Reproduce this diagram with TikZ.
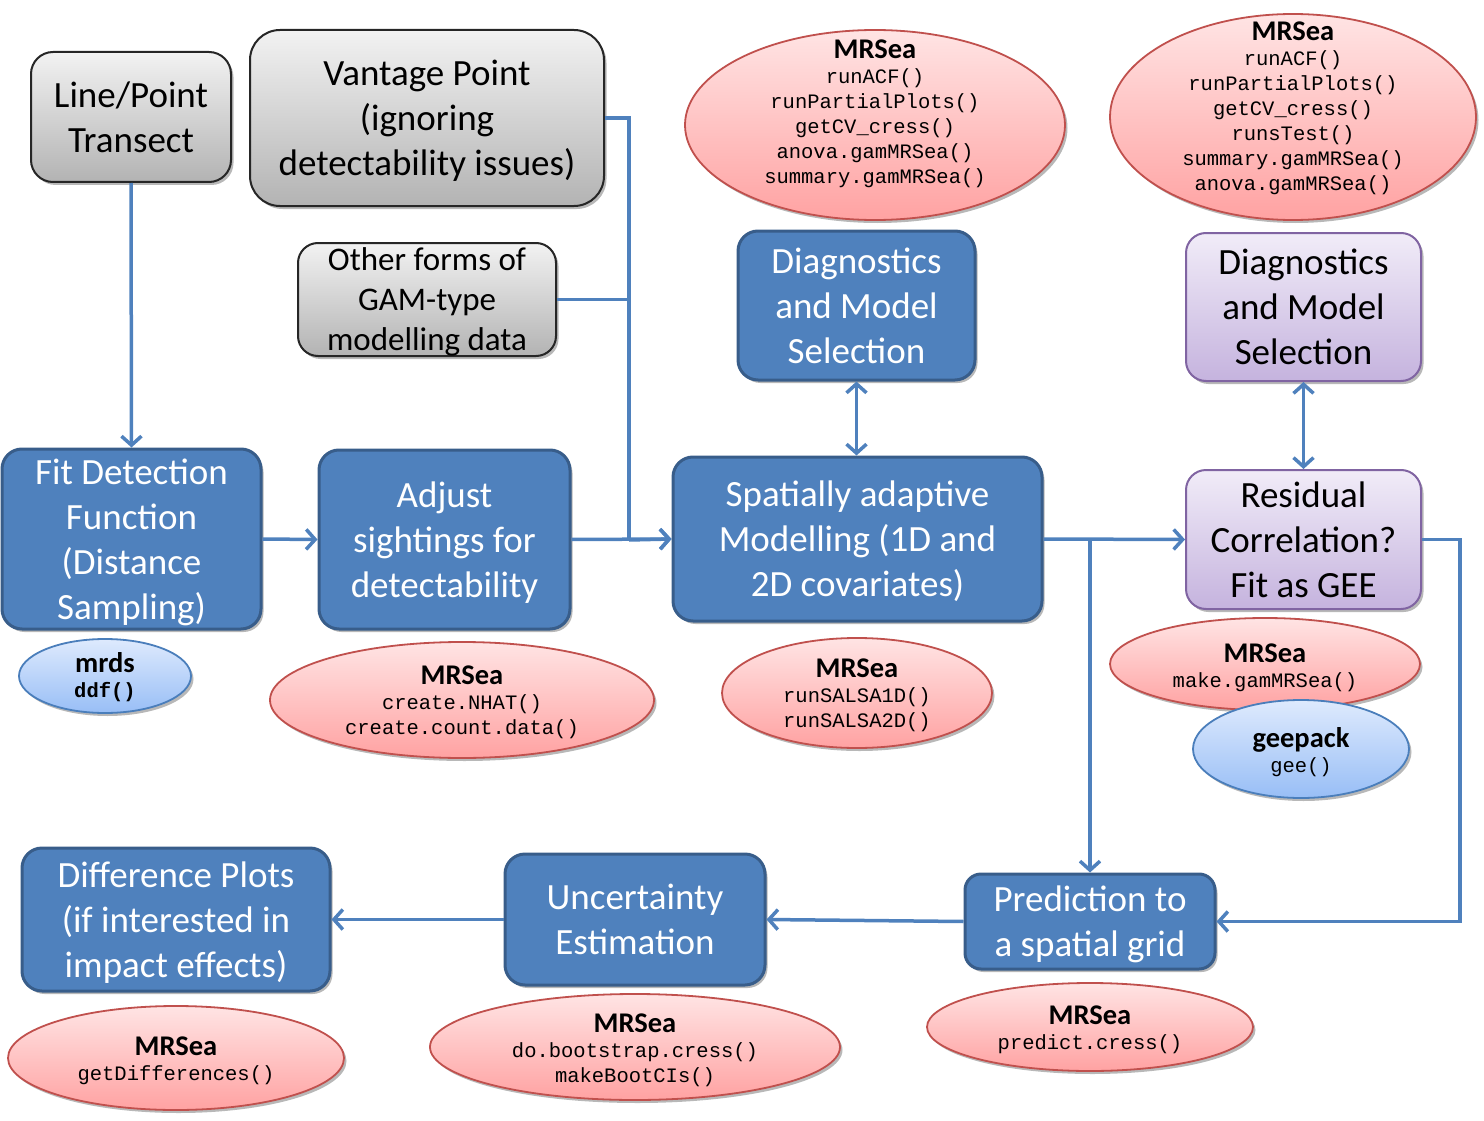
\documentclass[tikz,border=0pt]{standalone}
\usepackage{fontspec}
\setmainfont{Carlito}
\newfontfamily\mycodefont{Liberation Mono}
\usetikzlibrary{shapes.geometric,arrows.meta,shadows}
\definecolor{bluefill}{HTML}{4F81BD}
\definecolor{blueline}{HTML}{385D8A}
\definecolor{connc}{HTML}{4F81BD}
\definecolor{graytop}{HTML}{F2F2F2}
\definecolor{graybot}{HTML}{B3B3B3}
\definecolor{grayline}{HTML}{262626}
\definecolor{purptop}{HTML}{F1ECF8}
\definecolor{purpbot}{HTML}{C5B3DE}
\definecolor{purpline}{HTML}{8064A2}
\definecolor{redtop}{HTML}{FFE4E4}
\definecolor{redbot}{HTML}{FFA2A2}
\definecolor{redline}{HTML}{C0504D}
\definecolor{bltop}{HTML}{DEEAFD}
\definecolor{blbot}{HTML}{98BEF6}
\definecolor{blline}{HTML}{4A7EBB}
\newcommand\mybig{\fontsize{37}{45}\selectfont}
\newcommand\mymid{\fontsize{33}{40}\selectfont}
\newcommand\mycode{\mycodefont\fontsize{20.5}{25}\selectfont}
\newcommand\mypkg{\rmfamily\fontsize{28.5}{25}\selectfont\bfseries}
\tikzset{
  sh/.style={drop shadow={shadow xshift=2.5pt,shadow yshift=-3pt,opacity=0.28,fill=black}},
  bluebox/.style={draw=blueline,fill=bluefill,line width=3pt,rounded corners=20pt,
    text=white,font=\mybig,align=center,inner sep=0pt,text depth=0pt,sh},
  graybox/.style={draw=grayline,top color=graytop,bottom color=graybot,line width=2pt,
    rounded corners=22pt,text=black,font=\mybig,align=center,inner sep=0pt,text depth=0pt,sh},
  purpbox/.style={draw=purpline,top color=purptop,bottom color=purpbot,line width=2pt,
    rounded corners=20pt,text=black,font=\mybig,align=center,inner sep=0pt,text depth=0pt,sh},
  redell/.style={ellipse,draw=redline,line width=1.8pt,top color=redtop,bottom color=redbot,
    inner sep=0pt,sh},
  blueell/.style={ellipse,draw=blline,line width=1.8pt,top color=bltop,bottom color=blbot,
    inner sep=0pt,sh},
  ltxt/.style={align=center,font=\mycode,inner sep=0pt,text=black},
  wire/.style={draw=connc,line width=3.5pt},
  conn/.style={wire,-{Straight Barb[length=9pt,width=20pt]}},
  conn2/.style={wire,{Straight Barb[length=9pt,width=20pt]}-{Straight Barb[length=9pt,width=20pt]}},
}
\begin{document}
\begin{tikzpicture}[x=1pt,y=-1pt]
\useasboundingbox (0,0) rectangle (1484,1121);

% top gray boxes
\node[graybox,minimum width=200,minimum height=130] (lpt) at (131,117) {Line/Point\\Transect};
\node[graybox,minimum width=354,minimum height=176,rounded corners=30pt] (vp) at (427,118) {Vantage Point\\(ignoring\\detectability issues)};
\node[graybox,minimum width=258,minimum height=113,font=\mymid,rounded corners=20pt] (oth) at (427,299.5) {Other forms of\\GAM-type\\modelling data};

% main blue boxes
\node[bluebox,minimum width=259,minimum height=180] (fit) at (131.5,539) {Fit Detection\\Function\\(Distance\\Sampling)};
\node[bluebox,minimum width=251,minimum height=179] (adj) at (444.5,539.5) {Adjust\\sightings for\\detectability};
\node[bluebox,minimum width=369,minimum height=164] (spa) at (857.5,539) {Spatially adaptive\\Modelling (1D and\\2D covariates)};
\node[bluebox,minimum width=237,minimum height=149] (dg1) at (856.5,305.5) {Diagnostics\\and Model\\Selection};
\node[purpbox,minimum width=235,minimum height=148] (dg2) at (1303.5,307) {Diagnostics\\and Model\\Selection};
\node[purpbox,minimum width=235,minimum height=139] (res) at (1303.5,539.5) {Residual\\Correlation?\\Fit as GEE};
\node[bluebox,minimum width=250,minimum height=95,rounded corners=16pt] (pred) at (1090,921.5) {Prediction to\\a spatial grid};
\node[bluebox,minimum width=260,minimum height=131] (unc) at (635,919.5) {Uncertainty\\Estimation};
\node[bluebox,minimum width=308,minimum height=143] (dif) at (176,919.5) {Difference Plots\\(if interested in\\impact effects)};

% ellipses
\node[blueell,minimum width=172,minimum height=74] (emrds) at (105,676) {};
\node[ltxt] (tmrds) at (105,677) {{\mypkg mrds}\\{\bfseries ddf()}};

\node[redell,minimum width=384,minimum height=116] (eadj) at (462,700) {};
\node[ltxt] (tadj) at (462,702) {{\mypkg MRSea}\\create.NHAT()\\create.count.data()};

\node[redell,minimum width=380,minimum height=190] (etop1) at (875,125) {};
\node[ltxt] (ttop1) at (875,114) {{\mypkg MRSea}\\runACF()\\runPartialPlots()\\getCV\_cress()\\anova.gamMRSea()\\summary.gamMRSea()};

\node[redell,minimum width=366,minimum height=206] (etop2) at (1293,117) {};
\node[ltxt] (ttop2) at (1293,108) {{\mypkg MRSea}\\runACF()\\runPartialPlots()\\getCV\_cress()\\runsTest()\\summary.gamMRSea()\\anova.gamMRSea()};

\node[redell,minimum width=270,minimum height=110] (esal) at (857,693) {};
\node[ltxt] (tsal) at (857,695) {{\mypkg MRSea}\\runSALSA1D()\\runSALSA2D()};

\node[redell,minimum width=310,minimum height=92] (emak) at (1265,664) {};
\node[ltxt] (tmak) at (1265,668) {{\mypkg MRSea}\\make.gamMRSea()};

\node[blueell,minimum width=216,minimum height=98] (egee) at (1301,749) {};
\node[ltxt] (tgee) at (1301,752) {{\mypkg geepack}\\gee()};

\node[redell,minimum width=326,minimum height=88] (eprd) at (1090,1027) {};
\node[ltxt] (tprd) at (1090,1030) {{\mypkg MRSea}\\predict.cress()};

\node[redell,minimum width=410,minimum height=106] (ebot) at (635,1047) {};
\node[ltxt] (tbot) at (635,1050) {{\mypkg MRSea}\\do.bootstrap.cress()\\makeBootCIs()};

\node[redell,minimum width=336,minimum height=104] (edif) at (176,1058) {};
\node[ltxt] (tdif) at (176,1061) {{\mypkg MRSea}\\getDifferences()};

% connectors
\coordinate (jn) at (629,540);
\coordinate (rc) at (1460,540);
\draw[conn] (lpt.south) -- (fit.north);
\draw[conn] (fit.east) -- (adj.west);
\draw[conn] (adj.east) -- (spa.west);
\draw[wire] (vp.east) -| (jn);
\draw[wire] (oth.east) -- (oth.east -| jn);
\draw[conn] (jn) -- (spa.west);
\draw[conn2] (dg1.south) -- (dg1.south |- spa.north);
\draw[conn2] (dg2.south) -- (res.north);
\draw[conn] (spa.east) -- (res.west);
\draw[conn] (spa.east -| pred.north) -- (pred.north);
\draw[conn] (res.east) -| (rc |- pred.east) -- (pred.east);
\draw[conn] (pred.west) -- (unc.east);
\draw[conn] (unc.west) -- (dif.east);
\end{tikzpicture}
\end{document}
